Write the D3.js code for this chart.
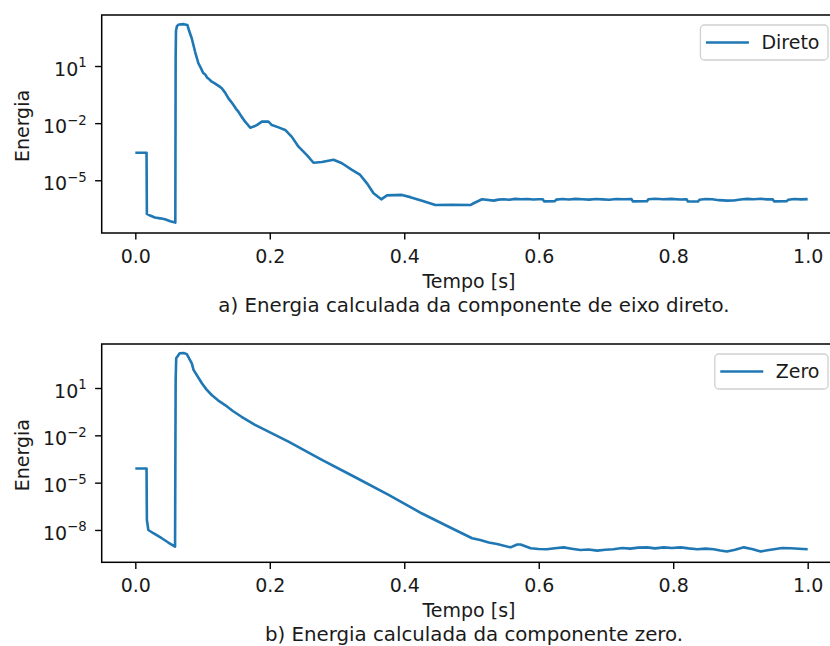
<!DOCTYPE html>
<html>
<head>
<meta charset="utf-8">
<script src="https://cdn.jsdelivr.net/npm/d3@7"></script>
<style>
  body { margin: 0; background: #fff; }
  svg { display: block; }
  text { font-family: "DejaVu Sans", sans-serif; fill: #1a1a1a; }
</style>
</head>
<body>
<svg id="fig" width="830" height="646"></svg>
<script>
// Energia calculada – componente de eixo direto
const directTime = [
  0.000, 0.0167, 0.0172, 0.022, 0.029, 0.037, 0.044, 0.052, 0.058, 0.0595,
  0.0600, 0.0605, 0.062, 0.065, 0.072, 0.0775, 0.080, 0.084, 0.0889, 0.0938,
  0.097, 0.1012, 0.104, 0.107, 0.110, 0.1137, 0.117, 0.121, 0.125, 0.1286,
  0.1335, 0.1385, 0.142, 0.146, 0.150, 0.1533, 0.158, 0.1633, 0.167, 0.1708,
  0.176, 0.1807, 0.1882, 0.198, 0.2031, 0.213, 0.2229, 0.2328,
  0.2427, 0.2552, 0.265, 0.2775, 0.2948, 0.3073, 0.3222, 0.3345, 0.3445, 0.3543,
  0.3658, 0.3743, 0.3966, 0.409, 0.4264, 0.4462, 0.471, 0.4983, 0.5032, 0.5157,
  0.533, 0.540, 0.548, 0.556, 0.565, 0.574, 0.583, 0.592, 0.600, 0.606,
  0.608, 0.624, 0.626, 0.635, 0.645, 0.655, 0.665, 0.675, 0.685, 0.695,
  0.705, 0.715, 0.727, 0.738, 0.740, 0.761, 0.763, 0.773, 0.785, 0.797,
  0.810, 0.820, 0.822, 0.837, 0.839, 0.848, 0.858, 0.868, 0.880, 0.890,
  0.900, 0.910, 0.920, 0.930, 0.940, 0.948, 0.950, 0.969, 0.971, 0.980,
  0.990, 1.000
];
const directEnergy = [
  2.8e-4, 2.8e-4, 1.7e-7, 1.4e-7, 1.1e-7, 1.0e-7, 8.9e-8, 7.1e-8, 6.3e-8, 6.0e-8,
  32, 710, 1260, 1510, 1580, 1410, 710, 280, 56, 14,
  8.5, 4.2, 3.6, 2.4, 2.0, 1.5, 1.3, 1.05, 0.85, 0.68,
  0.40, 0.20, 0.14, 0.089, 0.055, 0.040, 0.022, 0.012, 0.0085, 0.0058,
  0.0066, 0.0079, 0.012, 0.012, 0.0079, 0.0060, 0.0044, 0.0019,
  5.8e-4, 2.1e-4, 8.3e-5, 9.1e-5, 1.2e-4, 7.8e-5, 3.5e-5, 1.9e-5, 6.9e-6, 2.1e-6,
  1.0e-6, 1.6e-6, 1.7e-6, 1.3e-6, 8.5e-7, 5.0e-7, 5.2e-7, 5.0e-7, 6.2e-7, 1.0e-6,
  8.5e-7, 9.6e-7, 1.0e-6, 9.4e-7, 1.05e-6, 1.0e-6, 1.04e-6, 9.8e-7, 1.0e-6, 1.0e-6,
  7.8e-7, 7.9e-7, 9.6e-7, 1.03e-6, 9.7e-7, 1.05e-6, 1.0e-6, 9.6e-7, 1.04e-6, 9.9e-7,
  9.5e-7, 1.03e-6, 1.0e-6, 1.02e-6, 7.8e-7, 7.9e-7, 1.0e-6, 1.06e-6, 1.0e-6, 1.05e-6,
  9.8e-7, 1.0e-6, 7.6e-7, 7.7e-7, 9.5e-7, 1.04e-6, 1.0e-6, 9.0e-7, 8.5e-7, 8.6e-7,
  9.8e-7, 1.05e-6, 1.0e-6, 1.06e-6, 9.9e-7, 1.0e-6, 7.8e-7, 7.9e-7, 9.5e-7, 1.04e-6,
  9.9e-7, 1.02e-6
];

// Energia calculada – componente zero
const zeroTime = [
  0.000, 0.0167, 0.0172, 0.0194, 0.0268, 0.0393, 0.049, 0.0591,
  0.0600, 0.0608, 0.066, 0.072, 0.0766, 0.084, 0.0866, 0.099, 0.106, 0.1136,
  0.123, 0.1335, 0.145, 0.158, 0.168, 0.178, 0.1929, 0.2278, 0.2775, 0.3271,
  0.3767, 0.4264, 0.466, 0.5009, 0.513, 0.5257, 0.538, 0.558, 0.568, 0.573,
  0.588, 0.600, 0.612, 0.624, 0.637, 0.649, 0.662, 0.674, 0.687, 0.699,
  0.711, 0.724, 0.736, 0.748, 0.761, 0.773, 0.786, 0.798, 0.811, 0.823,
  0.836, 0.848, 0.860, 0.870, 0.880, 0.892, 0.905, 0.917, 0.930, 0.940,
  0.950, 0.962, 0.975, 0.987, 1.000
];
const zeroEnergy = [
  7.9e-5, 7.9e-5, 4.3e-8, 1.0e-8, 6.2e-9, 3.0e-9, 1.6e-9, 8.7e-10,
  32, 760, 1580, 1660, 1410, 360, 140, 20, 7.9, 3.6,
  1.66, 0.83, 0.35, 0.15, 0.083, 0.046, 0.022, 0.0040, 2.8e-4, 2.2e-5,
  1.7e-6, 1.1e-7, 1.6e-8, 3.0e-9, 2.3e-9, 1.6e-9, 1.3e-9, 7.9e-10, 1.2e-9, 1.2e-9,
  6.9e-10, 6.2e-10, 6.0e-10, 7.0e-10, 7.9e-10, 6.5e-10, 5.4e-10, 5.8e-10, 4.9e-10, 5.6e-10,
  6.0e-10, 7.2e-10, 6.6e-10, 7.6e-10, 7.9e-10, 6.8e-10, 7.9e-10, 7.2e-10, 7.9e-10, 6.8e-10,
  6.0e-10, 6.6e-10, 6.0e-10, 5.0e-10, 4.3e-10, 5.6e-10, 7.9e-10, 6.2e-10, 4.3e-10, 5.2e-10,
  6.0e-10, 7.2e-10, 6.9e-10, 6.4e-10, 6.0e-10
];

const xTicks = [0.0, 0.2, 0.4, 0.6, 0.8, 1.0];
const directYTicks = [1e1, 1e-2, 1e-5];
const zeroYTicks = [1e1, 1e-2, 1e-5, 1e-8];

const seriesNames = ["Direto", "Zero"];
const captions = [
  "a) Energia calculada da componente de eixo direto.",
  "b) Energia calculada da componente zero."
];
const xLabel = "Tempo [s]";
const yLabel = "Energia";

const svg = d3.select("#fig");
const lineColor = "#1f77b4";
const tickFont = 19;

const panels = [
  { top: 15,  bottom: 233,   yDomain: [Math.pow(10, -7.77), Math.pow(10, 3.68)],
    time: directTime, energy: directEnergy, yTicks: directYTicks,
    name: seriesNames[0], caption: captions[0] },
  { top: 344, bottom: 562.3, yDomain: [Math.pow(10, -10.05), Math.pow(10, 3.79)],
    time: zeroTime, energy: zeroEnergy, yTicks: zeroYTicks,
    name: seriesNames[1], caption: captions[1] }
];

const left = 101.7, right = 841.3;

function supLabel(sel, v) {
  const e = Math.round(Math.log10(v));
  sel.text(null);
  sel.append("tspan").text("10");
  sel.append("tspan")
    .attr("font-size", tickFont * 0.7)
    .attr("dy", "-0.62em")
    .text(e < 0 ? "\u2212" + Math.abs(e) : String(e));
}

panels.forEach(p => {
  const x = d3.scaleLinear().domain([-0.05, 1.05]).range([left, right]);
  const y = d3.scaleLog().domain(p.yDomain).range([p.bottom, p.top]);
  const g = svg.append("g");

  // data line
  const pts = p.time.map((t, i) => [t, p.energy[i]]);
  g.append("path")
    .datum(pts)
    .attr("fill", "none")
    .attr("stroke", lineColor)
    .attr("stroke-width", 2.6)
    .attr("stroke-linejoin", "round")
    .attr("d", d3.line().x(d => x(d[0])).y(d => y(d[1])));

  // x axis
  const xa = g.append("g")
    .attr("transform", `translate(0,${p.bottom})`)
    .call(d3.axisBottom(x).tickValues(xTicks).tickFormat(d3.format(".1f"))
      .tickSize(6.6).tickPadding(10));
  xa.select(".domain").remove();
  xa.selectAll("line").attr("stroke", "#000").attr("stroke-width", 1.4);
  xa.selectAll("text").attr("font-size", tickFont).attr("fill", "#1a1a1a")
    .attr("font-family", "DejaVu Sans");

  // y axis
  const ya = g.append("g")
    .attr("transform", `translate(${left},0)`)
    .call(d3.axisLeft(y).tickValues(p.yTicks).tickSize(6.6).tickPadding(8.4));
  ya.select(".domain").remove();
  ya.selectAll("line").attr("stroke", "#000").attr("stroke-width", 1.4);
  ya.selectAll("text")
    .attr("font-size", tickFont).attr("fill", "#1a1a1a")
    .attr("font-family", "DejaVu Sans")
    .attr("dy", "0.48em")
    .each(function(d) { supLabel(d3.select(this), d); });

  // frame
  g.append("rect")
    .attr("x", left).attr("y", p.top)
    .attr("width", right - left).attr("height", p.bottom - p.top)
    .attr("fill", "none").attr("stroke", "#000").attr("stroke-width", 1.5);

  // axis labels
  g.append("text")
    .attr("x", 469).attr("y", p.bottom + 55)
    .attr("text-anchor", "middle").attr("font-size", tickFont)
    .text(xLabel);
  g.append("text")
    .attr("transform", `translate(28.7,${(p.top + p.bottom) / 2 + 2}) rotate(-90)`)
    .attr("text-anchor", "middle").attr("font-size", tickFont)
    .text(yLabel);

  // caption
  g.append("text")
    .attr("x", 474).attr("y", p.bottom + 78.5)
    .attr("text-anchor", "middle").attr("font-size", 19.8)
    .text(p.caption);

  // legend
  const lg = g.append("g");
  const lt = lg.append("text").attr("font-size", tickFont).text(p.name);
  const tw = lt.node().getComputedTextLength();
  const boxRight = 828, boxTop = p.top + 10, boxH = 35;
  const boxW = 62 + tw + 7.5;
  const boxLeft = boxRight - boxW;
  lg.insert("rect", "text")
    .attr("x", boxLeft).attr("y", boxTop)
    .attr("width", boxW).attr("height", boxH)
    .attr("rx", 4).attr("ry", 4)
    .attr("fill", "#fff").attr("fill-opacity", 0.8)
    .attr("stroke", "#d0d0d0").attr("stroke-width", 1.3);
  lg.append("line")
    .attr("x1", boxLeft + 5.5).attr("x2", boxLeft + 48.5)
    .attr("y1", boxTop + boxH / 2).attr("y2", boxTop + boxH / 2)
    .attr("stroke", lineColor).attr("stroke-width", 2.6);
  lt.attr("x", boxLeft + 61).attr("y", boxTop + boxH / 2 + 6.8);
});
</script>
</body>
</html>
